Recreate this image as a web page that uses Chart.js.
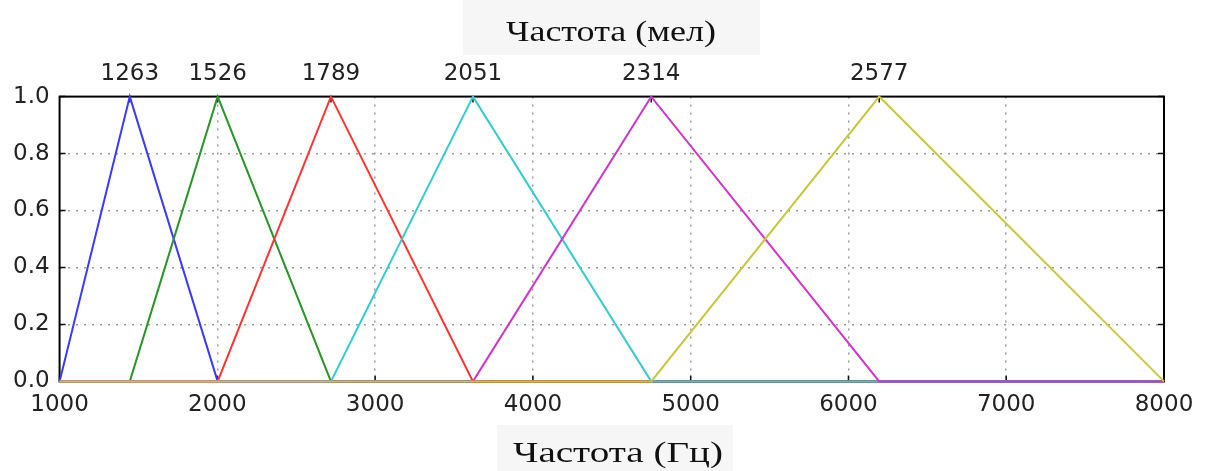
<!DOCTYPE html>
<html>
<head>
<meta charset="utf-8">
<script src="https://cdn.jsdelivr.net/npm/chart.js@4.4.0/dist/chart.umd.min.js"></script>
<style>
  html, body { margin: 0; padding: 0; background: #fff; }
  #wrap { width: 1210px; height: 471px; }
</style>
</head>
<body>
<div id="wrap"><canvas id="mel-chart"></canvas></div>
<script>
// filter edges in Hz; triangle i rises from edgesHz[i] to a peak at edgesHz[i+1] and falls to edgesHz[i+2]
const edgesHz = [1000, 1445, 2002, 2720, 3620, 4750, 6195, 8000];
const melLabels = ['1263', '1526', '1789', '2051', '2314', '2577'];
const peakLevel = 1.0;
const xTicks = [1000, 2000, 3000, 4000, 5000, 6000, 7000, 8000];
const yTicks = [0.0, 0.2, 0.4, 0.6, 0.8, 1.0];
const colors = ['#3b3bff', '#2a962a', '#ff3535', '#38cccc', '#cc38cc', '#c8c840'];
const topTitle = 'Частота (мел)';
const bottomTitle = 'Частота (Гц)';

const xMin = xTicks[0];
const xMax = xTicks[xTicks.length - 1];
const peaksHz = edgesHz.slice(1, edgesHz.length - 1);

const datasets = melLabels.map((label, i) => ({
  label: label,
  data: [
    { x: xMin, y: 0 },
    { x: edgesHz[i], y: 0 },
    { x: edgesHz[i + 1], y: peakLevel },
    { x: edgesHz[i + 2], y: 0 },
    { x: xMax, y: 0 }
  ],
  borderColor: colors[i],
  borderWidth: 2,
  pointRadius: 0,
  tension: 0,
  clip: 4,
  order: melLabels.length - i // later filters drawn on top
}));

const tickFont = { family: 'DejaVu Sans', size: 23 };

// wide serif caption on a light box
function drawCaption(ctx, text, cx, cy, box) {
  ctx.save();
  ctx.fillStyle = '#f6f6f6';
  ctx.fillRect(box.x, box.y, box.w, box.h);
  ctx.font = '30px "Liberation Serif"';
  const sx = 210 / ctx.measureText(text).width;
  ctx.translate(cx, cy);
  ctx.scale(sx, 1);
  ctx.fillStyle = '#111';
  ctx.textAlign = 'center';
  ctx.textBaseline = 'middle';
  ctx.fillText(text, 0, 0);
  ctx.restore();
}

// frame, inward tick marks and the two captions
const framePlugin = {
  id: 'frame',
  beforeDraw(chart) {
    const { ctx } = chart;
    drawCaption(ctx, topTitle, 611, 33, { x: 463, y: 0, w: 297, h: 55 });
    drawCaption(ctx, bottomTitle, 618, 454, { x: 497, y: 425, w: 236, h: 46 });
  },
  beforeDatasetsDraw(chart) {
    const { ctx, chartArea: a, scales } = chart;
    ctx.save();
    ctx.strokeStyle = '#111';
    ctx.lineWidth = 1.5;
    ctx.beginPath();
    xTicks.forEach(v => {
      const px = scales.x.getPixelForValue(v);
      ctx.moveTo(px, a.bottom); ctx.lineTo(px, a.bottom - 6);
    });
    peaksHz.forEach(v => {
      const px = scales.x2.getPixelForValue(v);
      ctx.moveTo(px, a.top); ctx.lineTo(px, a.top + 6);
    });
    yTicks.forEach(v => {
      const py = scales.y.getPixelForValue(v);
      ctx.moveTo(a.left, py); ctx.lineTo(a.left + 6, py);
      ctx.moveTo(a.right, py); ctx.lineTo(a.right - 6, py);
    });
    ctx.stroke();
    ctx.lineWidth = 2;
    ctx.strokeStyle = '#000';
    ctx.strokeRect(a.left, a.top, a.right - a.left, a.bottom - a.top);
    ctx.restore();
  }
};

const isEdge = (ctx, lo, hi) => ctx.tick && (ctx.tick.value === lo || ctx.tick.value === hi);

new Chart(document.getElementById('mel-chart'), {
  type: 'line',
  data: { datasets: datasets },
  plugins: [framePlugin],
  options: {
    responsive: true,
    maintainAspectRatio: false,
    animation: false,
    layout: { padding: { top: 51, left: 3, right: 46, bottom: 42 } },
    plugins: { legend: { display: false }, tooltip: { enabled: false } },
    scales: {
      x: {
        type: 'linear',
        position: 'bottom',
        min: xMin,
        max: xMax,
        afterBuildTicks: s => { s.ticks = xTicks.map(v => ({ value: v })); },
        ticks: {
          font: tickFont,
          color: '#222',
          padding: 10,
          maxRotation: 0,
          callback: v => String(v)
        },
        grid: {
          drawTicks: false,
          tickLength: 0,
          color: ctx => isEdge(ctx, xMin, xMax) ? 'rgba(0,0,0,0)' : '#999',
          lineWidth: 1.5
        },
        border: { display: false, dash: [2, 6] }
      },
      x2: {
        type: 'linear',
        position: 'top',
        min: xMin,
        max: xMax,
        afterBuildTicks: s => { s.ticks = peaksHz.map(v => ({ value: v })); },
        ticks: {
          font: tickFont,
          color: '#222',
          padding: 9,
          maxRotation: 0,
          callback: (v, i) => melLabels[i]
        },
        grid: { display: false, drawTicks: false, tickLength: 0 },
        border: { display: false }
      },
      y: {
        min: 0,
        max: 1,
        afterBuildTicks: s => { s.ticks = yTicks.map(v => ({ value: v })); },
        ticks: {
          font: tickFont,
          color: '#222',
          padding: 10,
          callback: v => v.toFixed(1)
        },
        grid: {
          drawTicks: false,
          tickLength: 0,
          color: ctx => isEdge(ctx, 0, 1) ? 'rgba(0,0,0,0)' : '#999',
          lineWidth: 1.5
        },
        border: { display: false, dash: [2, 6] }
      }
    }
  }
});
</script>
</body>
</html>
